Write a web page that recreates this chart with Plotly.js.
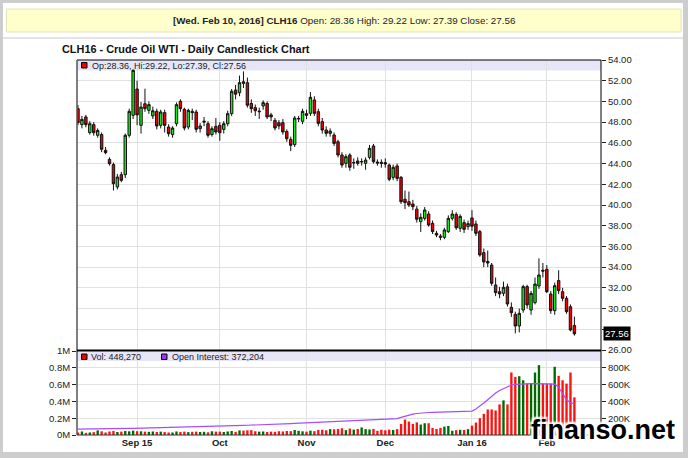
<!DOCTYPE html>
<html>
<head>
<meta charset="utf-8">
<script src="https://cdn.plot.ly/plotly-3.0.1.min.js"></script>
<style>
html,body{margin:0;padding:0;background:#cdcdcd;}
#chart{width:688px;height:458px;}
</style>
</head>
<body>
<div id="chart"></div>
<script>
const dates = [
'2015-08-11','2015-08-12','2015-08-13','2015-08-14','2015-08-17','2015-08-18','2015-08-19','2015-08-20','2015-08-21','2015-08-24','2015-08-25','2015-08-26','2015-08-27','2015-08-28','2015-08-31',
'2015-09-01','2015-09-02','2015-09-03','2015-09-04','2015-09-08','2015-09-09','2015-09-10','2015-09-11','2015-09-14','2015-09-15','2015-09-16','2015-09-17','2015-09-18','2015-09-21','2015-09-22','2015-09-23','2015-09-24','2015-09-25','2015-09-28','2015-09-29','2015-09-30',
'2015-10-01','2015-10-02','2015-10-05','2015-10-06','2015-10-07','2015-10-08','2015-10-09','2015-10-12','2015-10-13','2015-10-14','2015-10-15','2015-10-16','2015-10-19','2015-10-20','2015-10-21','2015-10-22','2015-10-23','2015-10-26','2015-10-27','2015-10-28','2015-10-29','2015-10-30',
'2015-11-02','2015-11-03','2015-11-04','2015-11-05','2015-11-06','2015-11-09','2015-11-10','2015-11-11','2015-11-12','2015-11-13','2015-11-16','2015-11-17','2015-11-18','2015-11-19','2015-11-20','2015-11-23','2015-11-24','2015-11-25','2015-11-27','2015-11-30',
'2015-12-01','2015-12-02','2015-12-03','2015-12-04','2015-12-07','2015-12-08','2015-12-09','2015-12-10','2015-12-11','2015-12-14','2015-12-15','2015-12-16','2015-12-17','2015-12-18','2015-12-21','2015-12-22','2015-12-23','2015-12-24','2015-12-28','2015-12-29','2015-12-30','2015-12-31',
'2016-01-04','2016-01-05','2016-01-06','2016-01-07','2016-01-08','2016-01-11','2016-01-12','2016-01-13','2016-01-14','2016-01-15','2016-01-19','2016-01-20','2016-01-21','2016-01-22','2016-01-25','2016-01-26','2016-01-27','2016-01-28','2016-01-29',
'2016-02-01','2016-02-02','2016-02-03','2016-02-04','2016-02-05','2016-02-08','2016-02-09','2016-02-10'];

const open = [
49.30,47.76,48.50,46.99,47.76,46.73,46.80,45.28,44.41,43.90,41.74,42.93,42.93,46.73,48.66,
51.20,47.69,49.78,49.14,48.60,49.04,47.69,48.92,47.53,46.80,47.85,50.01,49.24,47.53,49.04,48.98,47.37,48.00,47.85,46.80,47.60,
47.69,47.30,47.85,48.82,51.10,50.84,51.90,51.81,49.80,49.40,49.00,49.56,49.80,48.70,48.17,47.95,47.95,47.10,46.34,45.83,48.30,48.08,
48.82,48.85,50.14,49.01,48.05,47.24,46.92,46.76,46.11,44.83,44.02,44.83,44.05,44.25,44.15,44.02,44.60,45.70,44.15,44.12,
44.09,43.86,42.67,43.77,42.67,40.55,40.32,40.10,39.60,38.39,38.71,39.13,38.23,37.27,37.00,36.88,37.43,38.71,39.10,37.75,38.30,37.91,
38.75,38.17,37.43,35.40,34.55,34.20,32.28,31.63,31.47,32.10,30.12,29.44,28.32,29.86,32.12,29.86,30.57,32.18,33.70,
33.79,31.41,29.80,32.70,31.63,30.99,30.18,28.36];

const high = [
49.65,48.60,48.70,48.10,48.00,47.40,47.00,45.60,44.60,44.10,43.00,43.20,46.90,49.30,53.10,
52.00,49.94,51.23,50.00,49.50,49.30,49.20,49.20,47.80,47.60,49.90,50.20,49.40,49.30,49.30,49.20,47.90,48.50,48.10,47.60,48.40,
48.00,48.10,49.10,51.20,51.60,52.50,52.90,52.30,50.20,49.70,49.40,50.10,50.00,48.90,48.40,48.20,48.30,47.30,46.60,48.60,48.60,49.30,
49.20,50.90,50.50,49.30,48.40,47.60,47.40,47.00,46.30,45.10,44.90,45.00,44.50,44.60,44.50,44.60,45.80,45.90,44.40,44.40,
44.50,44.00,43.90,44.00,42.80,41.40,41.30,40.50,39.90,39.20,39.80,39.40,38.50,37.50,37.20,37.80,39.00,39.50,39.30,39.10,38.60,38.50,
39.50,38.50,37.60,35.80,35.60,34.40,33.00,32.10,32.60,32.40,30.60,29.70,30.00,32.30,32.30,31.70,33.00,34.85,34.40,
34.20,31.70,32.50,33.70,32.00,31.20,30.40,29.22];

const low = [
47.70,47.40,47.50,46.80,46.70,46.50,45.10,44.90,43.80,41.40,41.50,42.20,42.60,46.50,48.30,
47.70,46.89,49.00,48.80,48.30,47.30,47.40,47.00,46.60,46.50,47.60,49.00,47.20,47.30,48.20,47.00,47.00,47.60,46.50,46.60,46.80,
46.20,46.90,47.60,48.60,50.20,50.50,51.30,49.40,48.90,48.60,48.30,49.20,48.30,48.10,47.20,47.30,46.80,46.10,45.20,45.60,48.00,47.80,
48.30,48.60,48.60,47.60,46.90,46.60,46.60,45.70,44.60,43.60,43.60,43.30,43.50,43.80,43.80,43.40,44.40,44.00,43.80,43.60,
43.60,42.30,42.40,42.30,40.10,39.60,39.80,39.50,38.30,37.40,38.50,37.90,37.20,36.90,36.60,36.70,37.30,38.50,37.60,37.40,37.30,37.60,
37.50,37.00,35.00,34.00,34.00,32.20,31.20,31.00,31.20,30.20,29.20,27.60,27.70,29.60,30.00,29.40,30.40,31.90,33.00,
31.50,29.50,29.40,31.40,30.70,29.50,27.80,27.39];

const close = [
47.95,48.27,47.76,47.85,46.98,47.20,45.38,45.05,43.99,42.06,42.70,42.38,46.73,49.04,53.00,
48.70,49.46,49.30,49.69,49.10,47.63,48.98,47.69,46.89,47.43,49.69,49.30,47.43,49.14,48.92,47.31,47.63,48.08,46.73,47.37,47.05,
46.98,47.85,48.82,50.98,50.70,51.81,51.75,49.63,49.30,49.10,49.05,49.88,48.50,48.50,47.43,47.63,47.05,46.40,45.76,48.40,48.35,49.04,
48.66,50.40,48.85,47.88,47.24,46.92,47.14,45.95,44.83,43.86,44.67,43.64,44.10,44.02,44.20,44.34,45.47,44.18,44.05,44.02,
43.96,42.48,43.64,42.57,40.32,40.23,40.00,39.84,38.62,38.81,39.52,38.07,37.43,37.10,36.88,37.59,38.71,39.13,37.80,38.90,37.65,38.20,
37.95,37.27,35.17,34.50,34.40,32.44,31.54,31.41,32.05,30.44,29.60,28.32,29.54,32.12,30.35,31.47,32.37,33.24,33.62,
31.63,29.80,32.21,31.73,30.99,29.70,27.93,27.56];

// volume and open interest, thousands of contracts
const volumeK = [
30,42,26,30,34,55,44,30,42,48,36,40,48,44,52,
45,44,40,38,42,36,40,35,30,30,42,36,40,34,38,40,36,38,32,44,40,
40,36,42,48,38,55,52,56,58,44,40,42,36,40,38,45,42,48,46,60,50,44,
40,52,46,60,62,56,70,68,72,80,58,76,64,72,90,70,66,72,50,62,
56,64,60,70,132,184,160,132,150,124,140,140,84,72,84,100,108,50,58,62,60,70,
112,148,200,252,304,304,292,364,412,364,744,692,700,652,612,612,744,832,612,
612,612,812,704,652,612,744,448.270];

const openInterestK = [
70,70,71,71,72,72,73,73,74,75,75,76,77,78,79,
80,81,82,83,84,85,86,87,88,89,90,92,93,94,95,97,98,100,101,103,104,
106,108,109,110,112,113,114,116,117,118,120,121,123,124,126,128,130,133,136,138,140,141,
143,144,145,146,148,150,152,154,156,159,162,165,168,171,174,176,178,180,181,182,
184,186,188,195,210,225,238,248,256,262,266,268,270,272,273,274,275,276,277,278,280,282,
285,310,340,380,420,465,500,530,555,575,595,603,607,610,611,612,612,612,612,
612,612,605,570,500,420,385,372.204];

const monthTickDates = ['2015-09-01','2015-10-01','2015-11-02','2015-12-01','2016-01-04','2016-02-01'];
const monthTickLabels = ['Sep 15','Oct','Nov','Dec','Jan 16','Feb'];
const priceTickVals = [26,28,30,32,34,36,38,40,42,44,46,48,50,52,54];
const priceTickText = ['26.00','','30.00','32.00','34.00','36.00','38.00','40.00','42.00','44.00','46.00','48.00','50.00','52.00','54.00'];
const volTickVals = [0,200000,400000,600000,800000,1000000];
const volTickText = ['0M','0.2M','0.4M','0.6M','0.8M','1M'];
const oiTickVals = [200000,400000,600000,800000];
const oiTickText = ['200K','400K','600K','800K'];

const FONT = 'Liberation Sans, Arial, sans-serif';
const W = 688, H = 458;
const X = p => p / W;
const Y = p => 1 - p / H;

const priceRange = [26, 54];
const priceDomain = [Y(350), Y(60)];

const n = dates.length;
const last = n - 1;
const volume = volumeK.map(v => v * 1000);
const openInterest = openInterestK.map(v => v * 1000);
const volColors = close.map((c, i) => c >= open[i] ? '#006a00' : '#ff1111');
const fmtInt = v => Math.round(v).toLocaleString('en-US');
// paper position of the last close on the price axis (for the price marker label)
const lastClosePaper = priceDomain[0] + (close[last] - priceRange[0]) / (priceRange[1] - priceRange[0]) * (priceDomain[1] - priceDomain[0]);

const traces = [
  {
    type: 'candlestick', x: dates, open: open, high: high, low: low, close: close,
    xaxis: 'x', yaxis: 'y', hoverinfo: 'skip', whiskerwidth: 0,
    increasing: {fillcolor: '#11ee11', line: {color: '#111', width: 1}},
    decreasing: {fillcolor: '#ee0000', line: {color: '#111', width: 1}}
  },
  {
    type: 'bar', x: dates, y: volume, xaxis: 'x', yaxis: 'y2', width: 0.6,
    marker: {color: volColors, line: {width: 0}}, hoverinfo: 'skip'
  },
  {
    type: 'scatter', mode: 'lines', x: dates, y: openInterest, xaxis: 'x', yaxis: 'y3',
    line: {color: '#a64dff', width: 1.2}, hoverinfo: 'skip'
  }
];

const tickFont = {family: FONT, size: 9.5, color: '#222'};

const layout = {
  width: W, height: H,
  margin: {l: 0, r: 0, t: 0, b: 0},
  paper_bgcolor: '#cdcdcd',
  plot_bgcolor: 'rgba(0,0,0,0)',
  showlegend: false,
  boxgap: 0.12,
  bargap: 0.4,
  xaxis: {
    type: 'category', domain: [X(77), X(601)], anchor: 'y2',
    range: [-0.25, 132.75], rangeslider: {visible: false},
    tickvals: monthTickDates, ticktext: monthTickLabels,
    tickfont: {family: FONT, size: 9.5, color: '#222', weight: 'bold'},
    showgrid: true, gridcolor: '#e1e1e1', gridwidth: 1,
    showline: false, ticks: '', zeroline: false
  },
  yaxis: {
    domain: priceDomain, anchor: 'x', side: 'right',
    range: priceRange, tickvals: priceTickVals, ticktext: priceTickText,
    ticks: 'outside', ticklen: 4, tickcolor: '#222',
    tickfont: tickFont, showgrid: true, gridcolor: '#e1e1e1',
    showline: false, zeroline: false
  },
  yaxis2: {
    domain: [Y(435), Y(351)], anchor: 'x', side: 'left',
    range: [0, 1000000], tickvals: volTickVals, ticktext: volTickText,
    ticks: 'outside', ticklen: 4, tickcolor: '#222',
    tickfont: tickFont, showgrid: true, gridcolor: '#e1e1e1',
    showline: false, zeroline: false
  },
  yaxis3: {
    overlaying: 'y2', anchor: 'x', side: 'right',
    range: [0, 1000000], tickvals: oiTickVals, ticktext: oiTickText,
    ticks: 'outside', ticklen: 4, tickcolor: '#222',
    tickfont: tickFont, showgrid: false, showline: false, zeroline: false
  },
  shapes: [
    {type: 'rect', xref: 'paper', yref: 'paper', x0: X(3), x1: X(683), y0: Y(452), y1: Y(3), fillcolor: '#ffffff', line: {width: 0}, layer: 'below'},
    {type: 'rect', xref: 'paper', yref: 'paper', x0: X(3), x1: X(683), y0: Y(39), y1: Y(37), fillcolor: '#e3e3e3', line: {width: 0}, layer: 'below'},
    {type: 'rect', xref: 'paper', yref: 'paper', x0: X(6.5), x1: X(681), y0: Y(32), y1: Y(9), fillcolor: '#ffffcc', line: {color: '#e2e2bb', width: 1}, layer: 'below'},
    {type: 'rect', xref: 'paper', yref: 'paper', x0: X(77), x1: X(601), y0: Y(70.5), y1: Y(60), fillcolor: '#e6e6f8', line: {width: 0}, layer: 'below'},
    {type: 'rect', xref: 'paper', yref: 'paper', x0: X(77), x1: X(601), y0: Y(361), y1: Y(351.5), fillcolor: '#e6e6f8', line: {width: 0}, layer: 'below'},
    {type: 'line', xref: 'paper', yref: 'paper', x0: X(77), x1: X(601), y0: Y(60), y1: Y(60), line: {color: '#000', width: 1}},
    {type: 'line', xref: 'paper', yref: 'paper', x0: X(601), x1: X(601), y0: Y(60), y1: Y(435), line: {color: '#000', width: 1}},
    {type: 'line', xref: 'paper', yref: 'paper', x0: X(77), x1: X(77), y0: Y(60), y1: Y(435), line: {color: '#555', width: 1.5}},
    {type: 'line', xref: 'paper', yref: 'paper', x0: X(77), x1: X(601), y0: Y(350.5), y1: Y(350.5), line: {color: '#000', width: 2}},
    {type: 'line', xref: 'paper', yref: 'paper', x0: X(77), x1: X(601), y0: Y(435), y1: Y(435), line: {color: '#333', width: 1}},
    {type: 'rect', xref: 'paper', yref: 'paper', x0: X(81.5), x1: X(87), y0: Y(68), y1: Y(62.5), fillcolor: '#ee0000', line: {color: '#000', width: 1}},
    {type: 'rect', xref: 'paper', yref: 'paper', x0: X(81.5), x1: X(87), y0: Y(359.5), y1: Y(354), fillcolor: '#ee0000', line: {color: '#000', width: 1}},
    {type: 'rect', xref: 'paper', yref: 'paper', x0: X(161.5), x1: X(167), y0: Y(359.5), y1: Y(354), fillcolor: '#9933ff', line: {color: '#000', width: 1}}
  ],
  annotations: [
    {xref: 'paper', yref: 'paper', x: X(344), y: Y(20.5), xanchor: 'center', yanchor: 'middle', showarrow: false,
     text: '<b>[Wed. Feb 10, 2016] CLH16</b> Open: ' + open[last].toFixed(2) + ' High: ' + high[last].toFixed(2) + ' Low: ' + low[last].toFixed(2) + ' Close: ' + close[last].toFixed(2),
     font: {family: FONT, size: 9.8, color: '#222'}},
    {xref: 'paper', yref: 'paper', x: X(60), y: Y(48.5), xanchor: 'left', yanchor: 'middle', showarrow: false,
     text: '<b>CLH16 - Crude Oil WTI - Daily Candlestick Chart</b>', font: {family: FONT, size: 10.9, color: '#111'}},
    {xref: 'paper', yref: 'paper', x: X(89.5), y: Y(65.5), xanchor: 'left', yanchor: 'middle', showarrow: false,
     text: 'Op:' + open[last].toFixed(2) + ', Hi:' + high[last].toFixed(2) + ', Lo:' + low[last].toFixed(2) + ', Cl:' + close[last].toFixed(2),
     font: {family: FONT, size: 9, color: '#222'}},
    {xref: 'paper', yref: 'paper', x: X(89), y: Y(357), xanchor: 'left', yanchor: 'middle', showarrow: false,
     text: 'Vol: ' + fmtInt(volume[last]), font: {family: FONT, size: 9, color: '#222'}},
    {xref: 'paper', yref: 'paper', x: X(170), y: Y(357), xanchor: 'left', yanchor: 'middle', showarrow: false,
     text: 'Open Interest: ' + fmtInt(openInterest[last]), font: {family: FONT, size: 9, color: '#222'}},
    {xref: 'paper', yref: 'paper', x: X(603), y: lastClosePaper, xanchor: 'left', yanchor: 'middle', showarrow: false,
     text: close[last].toFixed(2), bgcolor: '#000', borderpad: 1, font: {family: FONT, size: 9.5, color: '#fff'}},
    {xref: 'paper', yref: 'paper', x: X(603), y: Y(430), xanchor: 'center', yanchor: 'middle', showarrow: false,
     text: '<b>finanso.net</b>',
     font: {family: 'Liberation Sans, Arial, sans-serif', size: 27, color: '#000',
            shadow: '2px 2px 2px #fff, -2px -2px 2px #fff, 2px -2px 2px #fff, -2px 2px 2px #fff'}}
  ]
};

Plotly.newPlot('chart', traces, layout, {staticPlot: true, displayModeBar: false});
</script>
</body>
</html>
